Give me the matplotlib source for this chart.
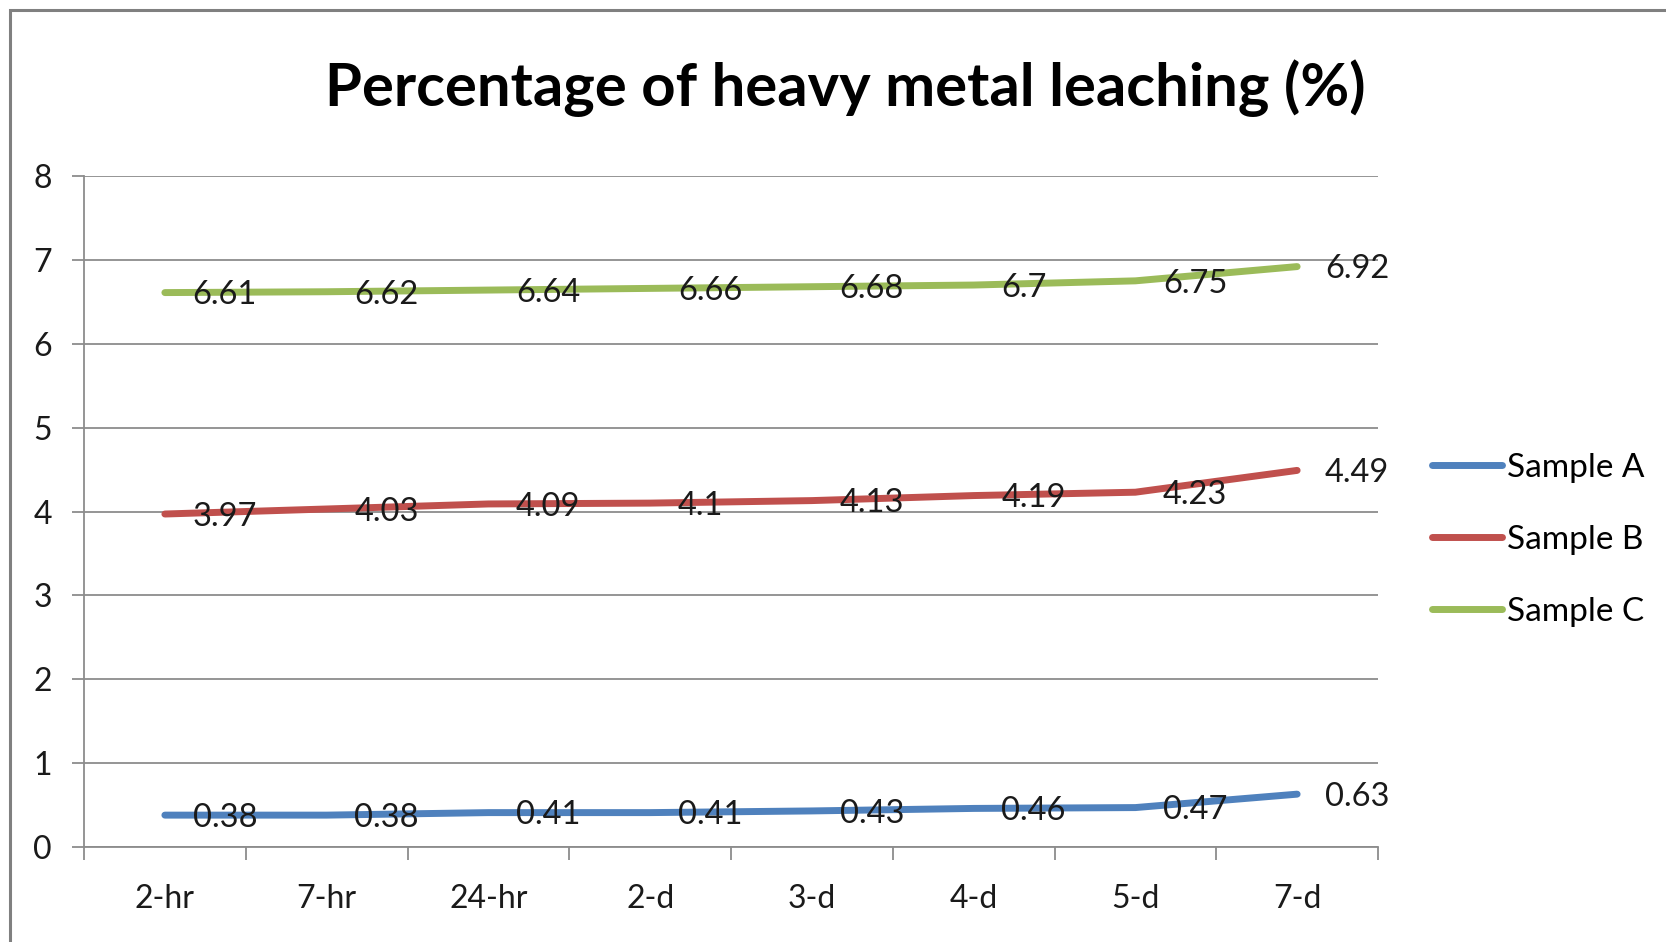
import matplotlib
import matplotlib.pyplot as plt
from matplotlib.patches import Rectangle
from matplotlib.ticker import FixedLocator

plt.switch_backend('agg')
plt.rcParams['font.family'] = ['Lato', 'DejaVu Sans']

# data
times = ['2-hr', '7-hr', '24-hr', '2-d', '3-d', '4-d', '5-d', '7-d']
sample_a = [0.38, 0.38, 0.41, 0.41, 0.43, 0.46, 0.47, 0.63]
sample_b = [3.97, 4.03, 4.09, 4.1, 4.13, 4.19, 4.23, 4.49]
sample_c = [6.61, 6.62, 6.64, 6.66, 6.68, 6.7, 6.75, 6.92]
series = [('Sample A', sample_a, '#4F81BD'),
          ('Sample B', sample_b, '#C0504D'),
          ('Sample C', sample_c, '#9BBB59')]

W, H = 1666, 942
fig = plt.figure(figsize=(W / 100, H / 100), dpi=100)
ax = fig.add_axes([84 / W, 1 - 847 / H, (1378 - 84) / W, (847 - 176) / H])

grid_c = '#8c8c8c'
x = list(range(len(times)))
for name, vals, col in series:
    ax.plot(x, vals, color=col, lw=5, solid_capstyle='round',
            solid_joinstyle='round', label=name, zorder=3)
    for xi, v in zip(x, vals):
        ax.annotate(f'{v:g}', (xi, v), xytext=(20, -2), textcoords='offset points',
                    ha='left', va='center', fontsize=23.5, color='#1a1a1a', zorder=4)

ax.set_xlim(-0.5, len(times) - 0.5)
ax.set_ylim(0, 8)
ax.set_yticks(range(0, 9))
ax.yaxis.grid(True, color=grid_c, lw=1.3)
ax.set_axisbelow(True)
ax.set_xticks(x)
ax.set_xticklabels(times)
ax.xaxis.set_minor_locator(FixedLocator([i - 0.5 for i in range(len(times) + 1)]))
ax.tick_params(axis='x', which='major', length=0, pad=27, labelsize=23, labelcolor='#1a1a1a')
ax.tick_params(axis='x', which='minor', length=9, width=1.3, color=grid_c)
ax.tick_params(axis='y', length=9, width=1.3, color=grid_c, pad=14, labelsize=23,
               labelcolor='#1a1a1a')
for s in ['top', 'right']:
    ax.spines[s].set_visible(False)
for s in ['left', 'bottom']:
    ax.spines[s].set_color(grid_c)
    ax.spines[s].set_linewidth(1.3)

fig.text(845 / W, 1 - 88 / H, 'Percentage of heavy metal leaching (%)',
         ha='center', va='center', fontsize=43, fontweight='bold')

leg = ax.legend(loc='center left', bbox_to_anchor=(1402 / W, 1 - 540 / H),
                bbox_transform=fig.transFigure, frameon=False, fontsize=24,
                handlelength=2.1, handletextpad=0.15, labelspacing=1.26)

# outer chart frame (cropped at right and bottom)
fig.patches.append(Rectangle((10 / W, -0.05), 1.2, 1 - 10 / H + 0.05,
                             transform=fig.transFigure, fill=False,
                             edgecolor='#808080', lw=2.2))

plt.savefig('out.png', dpi=100)
